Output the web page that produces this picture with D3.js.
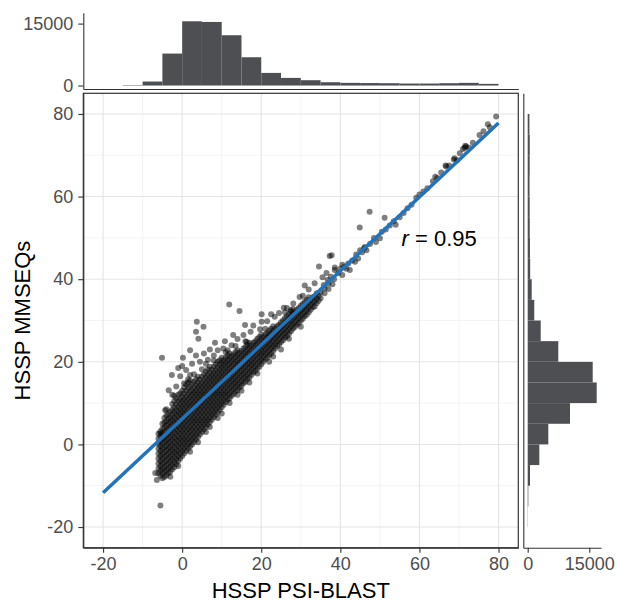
<!DOCTYPE html>
<html>
<head>
<meta charset="utf-8">
<script src="https://cdn.jsdelivr.net/npm/d3@7"></script>
<style>
  body { margin: 0; background: #fff; }
  svg { display: block; font-family: "Liberation Sans", Arial, Helvetica, sans-serif; }
</style>
</head>
<body>
<svg id="chart" width="617" height="602"></svg>
<script>
// marginal histograms, bins are 5 units wide
const xBinStarts = [-15, -10, -5, 0, 5, 10, 15, 20, 25, 30, 35, 40, 45, 50, 55, 60, 65, 70, 75];
const xBinCounts = [100, 970, 7740, 15560, 15400, 12180, 6850, 3060, 1850, 1290, 800, 650, 600, 560, 480, 480, 560, 650, 400];
const yBinStarts = [-20, -15, -10, -5, 0, 5, 10, 15, 20, 25, 30, 35, 40, 45, 50, 55, 60, 65, 70, 75];
const yBinCounts = [50, 150, 560, 2830, 5020, 10300, 16800, 15830, 7450, 3170, 1600, 970, 600, 550, 500, 480, 450, 480, 500, 420];

const axisTicks = [-20, 0, 20, 40, 60, 80];
const minorTicks = [-10, 10, 30, 50, 70];
const countTicks = [0, 15000];

// linear fit
const fitX = [-20, 80];
const fitY = [-11.7, 77.8];
const rText = "0.95";
const rPos = [65, 50];

// dense part of the cloud: PSI-BLAST value, MMSEQs values
const denseColumns = [
  [-6, [-7, -5.8, -4.6, -3.4, -2.2, -1, 0.2, 1.4, 2.6]],
  [-5.5, [-7.6, -6.4, -5.2, -4, -2.8, -1.6, -0.4, 0.8, 2, 3.2]],
  [-5, [-8.2, -7, -5.8, -4.6, -3.4, -2.2, -1, 0.2, 1.4, 2.6, 3.8, 5]],
  [-4.5, [-7.9, -6.7, -5.5, -4.3, -3.1, -1.9, -0.7, 0.5, 1.7, 2.9, 4.1, 5.3, 6.4]],
  [-4, [-7.5, -6.3, -5.1, -3.9, -2.7, -1.5, -0.3, 0.9, 2.1, 3.3, 4.5, 5.7, 7]],
  [-3.5, [-7, -5.8, -4.6, -3.4, -2.2, -1, 0.2, 1.4, 2.6, 3.8, 5, 6.2, 7.4]],
  [-3, [-6.6, -5.4, -4.2, -3, -1.8, -0.6, 0.6, 1.8, 3, 4.2, 5.4, 6.6, 8]],
  [-2.5, [-6, -4.8, -3.6, -2.4, -1.2, 0, 1.2, 2.4, 3.6, 4.8, 6, 7.2, 8.4, 9.8]],
  [-2, [-5.5, -4.3, -3.1, -1.9, -0.7, 0.5, 1.7, 2.9, 4.1, 5.3, 6.5, 7.7, 9, 10.5]],
  [-1.5, [-4.8, -3.6, -2.4, -1.2, 0, 1.2, 2.4, 3.6, 4.8, 6, 7.2, 8.4, 9.7, 11.2]],
  [-1, [-4, -2.8, -1.6, -0.4, 0.8, 2, 3.2, 4.4, 5.6, 6.8, 8, 9.2, 10.5, 12]],
  [-0.5, [-3.4, -2.2, -1, 0.2, 1.4, 2.6, 3.8, 5, 6.2, 7.4, 8.6, 9.8, 11, 12.4]],
  [0, [-2.8, -1.6, -0.4, 0.8, 2, 3.2, 4.4, 5.6, 6.8, 8, 9.2, 10.4, 11.6, 13]],
  [0.5, [-2.2, -1, 0.2, 1.4, 2.6, 3.8, 5, 6.2, 7.4, 8.6, 9.8, 11, 12.3, 13.8]],
  [1, [-1.6, -0.4, 0.8, 2, 3.2, 4.4, 5.6, 6.8, 8, 9.2, 10.4, 11.6, 13, 14.5]],
  [1.5, [-1, 0.2, 1.4, 2.6, 3.8, 5, 6.2, 7.4, 8.6, 9.8, 11, 12.2, 13.6, 15]],
  [2, [-0.5, 0.7, 1.9, 3.1, 4.3, 5.5, 6.7, 7.9, 9.1, 10.3, 11.5, 12.7, 14, 15.5]],
  [2.5, [0, 1.2, 2.4, 3.6, 4.8, 6, 7.2, 8.4, 9.6, 10.8, 12, 13.2, 14.6]],
  [3, [0.6, 1.8, 3, 4.2, 5.4, 6.6, 7.8, 9, 10.2, 11.4, 12.6, 13.8, 15.2]],
  [3.5, [1.2, 2.4, 3.6, 4.8, 6, 7.2, 8.4, 9.6, 10.8, 12, 13.2, 14.4, 15.8]],
  [4, [1.8, 3, 4.2, 5.4, 6.6, 7.8, 9, 10.2, 11.4, 12.6, 13.8, 15, 16.4]],
  [4.5, [2.4, 3.6, 4.8, 6, 7.2, 8.4, 9.6, 10.8, 12, 13.2, 14.4, 15.7]],
  [5, [3, 4.2, 5.4, 6.6, 7.8, 9, 10.2, 11.4, 12.6, 13.8, 15, 16.4]],
  [5.5, [3.6, 4.8, 6, 7.2, 8.4, 9.6, 10.8, 12, 13.2, 14.4, 15.6, 17]],
  [6, [4.2, 5.4, 6.6, 7.8, 9, 10.2, 11.4, 12.6, 13.8, 15, 16.2, 17.6]],
  [6.5, [4.8, 6, 7.2, 8.4, 9.6, 10.8, 12, 13.2, 14.4, 15.6, 16.8, 18.2]],
  [7, [5.4, 6.6, 7.8, 9, 10.2, 11.4, 12.6, 13.8, 15, 16.2, 17.4, 18.8]],
  [7.5, [6, 7.2, 8.4, 9.6, 10.8, 12, 13.2, 14.4, 15.6, 16.8, 18.1]],
  [8, [6.6, 7.8, 9, 10.2, 11.4, 12.6, 13.8, 15, 16.2, 17.4, 18.8]],
  [8.5, [7.2, 8.4, 9.6, 10.8, 12, 13.2, 14.4, 15.6, 16.8, 18, 19.4]],
  [9, [7.8, 9, 10.2, 11.4, 12.6, 13.8, 15, 16.2, 17.4, 18.6, 20]],
  [9.5, [8.4, 9.6, 10.8, 12, 13.2, 14.4, 15.6, 16.8, 18, 19.2, 20.4]],
  [10, [9, 10.2, 11.4, 12.6, 13.8, 15, 16.2, 17.4, 18.6, 19.8, 21]],
  [10.5, [9.6, 10.8, 12, 13.2, 14.4, 15.6, 16.8, 18, 19.2, 20.4]],
  [11, [10.2, 11.4, 12.6, 13.8, 15, 16.2, 17.4, 18.6, 19.8, 21]],
  [11.5, [10.8, 12, 13.2, 14.4, 15.6, 16.8, 18, 19.2, 20.4, 21.5]],
  [12, [11.2, 12.4, 13.6, 14.8, 16, 17.2, 18.4, 19.6, 20.8, 22]],
  [12.5, [11.8, 13, 14.2, 15.4, 16.6, 17.8, 19, 20.2, 21.4]],
  [13, [12.2, 13.4, 14.6, 15.8, 17, 18.2, 19.4, 20.6, 21.8]],
  [13.5, [12.8, 14, 15.2, 16.4, 17.6, 18.8, 20, 21.2, 22.4]],
  [14, [13.2, 14.4, 15.6, 16.8, 18, 19.2, 20.4, 21.6, 22.8]],
  [14.5, [13.8, 15, 16.2, 17.4, 18.6, 19.8, 21, 22.2]],
  [15, [14.2, 15.4, 16.6, 17.8, 19, 20.2, 21.4, 22.6]],
  [15.5, [14.8, 16, 17.2, 18.4, 19.6, 20.8, 22, 23.2]],
  [16, [15.2, 16.4, 17.6, 18.8, 20, 21.2, 22.4, 23.6]],
  [16.5, [15.8, 17, 18.2, 19.4, 20.6, 21.8, 23, 24.1]],
  [17, [16.2, 17.4, 18.6, 19.8, 21, 22.2, 23.4, 24.6]],
  [17.5, [16.8, 18, 19.2, 20.4, 21.6, 22.8, 24]],
  [18, [17.4, 18.6, 19.8, 21, 22.2, 23.4, 24.6]],
  [18.5, [17.8, 19, 20.2, 21.4, 22.6, 23.8, 25]],
  [19, [18.4, 19.6, 20.8, 22, 23.2, 24.4, 25.6]],
  [19.5, [18.8, 20, 21.2, 22.4, 23.6, 24.8, 26]],
  [20, [19.4, 20.6, 21.8, 23, 24.2, 25.4, 26.6]],
  [20.5, [20, 21.2, 22.4, 23.6, 24.8, 26]],
  [21, [20.6, 21.8, 23, 24.2, 25.4, 26.6]],
  [21.5, [21, 22.2, 23.4, 24.6, 25.8, 27]],
  [22, [21.6, 22.8, 24, 25.2, 26.4, 27.6]],
  [22.5, [22, 23.2, 24.4, 25.6, 26.8, 28]],
  [23, [22.6, 23.8, 25, 26.2, 27.4, 28.6]],
  [23.5, [23.2, 24.4, 25.6, 26.8, 28]],
  [24, [23.8, 25, 26.2, 27.4, 28.6]],
  [24.5, [24.2, 25.4, 26.6, 27.8, 29]],
  [25, [24.8, 26, 27.2, 28.4, 29.6]],
  [25.5, [25.2, 26.4, 27.6, 28.8, 30]],
  [26, [25.8, 27, 28.2, 29.4, 30.6]],
  [26.5, [26.2, 27.4, 28.6, 29.8, 31]],
  [27, [26.8, 28, 29.2, 30.4, 31.6]],
  [27.5, [27.4, 28.6, 29.8, 31, 32.2]],
  [28, [28, 29.2, 30.4, 31.6, 32.8]],
  [28.5, [28.4, 29.6, 30.8, 32]],
  [29, [29, 30.2, 31.4, 32.6]],
  [29.5, [29.4, 30.6, 31.8, 33]],
  [30, [30, 31.2, 32.4, 33.6]],
  [30.5, [30.4, 31.6, 32.8, 34]],
  [31, [31, 32.2, 33.4, 34.6]],
  [31.5, [31.4, 32.6, 33.8, 35]],
  [32, [32, 33.2, 34.4, 35.6]],
  [32.5, [32.6, 33.8, 35]],
  [33, [33.2, 34.4, 35.6]],
  [33.5, [33.4, 34.6, 35.8]],
  [34, [34.2, 35.4, 36.6]],
  [34.5, [34.8, 36]],
  [35, [35.4, 36.8]],
  [36, [36.6, 37.8]],
  [37, [37.6, 39]],
  [38, [38.8]]
];

// sparser points around the cloud and along the upper part of the fit
const loosePoints = [
  [-5.5, -14.8], [-6.8, -6.9], [-6.4, -8.6], [-5.1, 21.0], [-2.6, 16.8], [-3.4, 13.1], [-4.3, 8.3], [-5.5, 2.7],
  [0.2, 21], [2, 22.8], [3.7, 29.7], [3.5, 27.3], [5.4, 28.5], [4.1, 25.6], [11.9, 33.9], [14.5, 32.3],
  [15.9, 28.9], [20.1, 31.5], [20.1, 29.7], [17.3, 27.3], [19.7, 27.9], [12.9, 26.5], [8.3, 24.6], [10.4, 23.2],
  [16.3, 24.8], [37.3, 45.6], [34.6, 43.1], [38.6, 42.8], [29.7, 35.7], [28.1, 34.1], [25.7, 33.1], [23.4, 30.9],
  [-1.5, 14], [-0.5, 16.5], [1, 18], [2.5, 19.5], [0, 19], [3, 17], [4.5, 20], [5.5, 22], [6.5, 20.5], [7, 23],
  [8, 21.5], [9, 22.8], [1.5, 15.8], [-2.5, 12], [3.5, 21.5], [6, 19.5], [-1, 18.5], [10.8, 25], [12.5, 24],
  [14, 25.5], [11.5, 22.8], [13.5, 23.8], [15.5, 26.5], [18, 28.8], [21.5, 29.8], [22.5, 31.5], [24.5, 31.8],
  [26.5, 33], [27.5, 32.5], [30.5, 36], [32, 37.5], [31, 38.5], [33.5, 39], [35.5, 40.5], [36.5, 41.5],
  [25, 23], [30, 28.5], [22, 20], [15, 13], [10, 7.5], [6, 3],
  [2, -1.8], [4, 0.5], [7, 4.2], [9, 6.4], [12, 10], [14, 12], [17, 15], [19, 17.2], [23, 21.3], [27, 25.6],
  [-3, -7.8], [-1, -5.2], [-4, 8.5], [-2, 11.8], [0.5, 14.8], [2, 16.8], [5, 18.2], [8, 20.3], [11, 22.3],
  [16, 25], [21, 28], [26, 32], [35.8, 38.6], [36.8, 39.8], [37.6, 40.6], [38.4, 40],
  [37.8, 45.8], [38.6, 42.2], [39.5, 41.5], [40, 42.5], [40.5, 41], [41, 43], [42, 43.8], [42.4, 42.2], [43, 44.5],
  [43.7, 44.2], [44.9, 52.5], [44, 46], [45, 47], [46, 47.5], [46.2, 47.8], [46.6, 47], [47.4, 56.3], [47.5, 48.5],
  [48.5, 50], [49, 49], [50, 49.9], [50.5, 51.5], [51.2, 54.9], [51.5, 52], [52.5, 53], [53.5, 54], [54, 53.2],
  [55, 55], [56, 56], [57, 57.2], [58, 58], [59.2, 59.7], [60, 60.5], [61, 61.2], [62, 62], [63.4, 63.7],
  [64.5, 64.5], [65.5, 65.8], [66.8, 67.3], [67.5, 67.5], [68.9, 69.3], [69.5, 68.8], [70.2, 70.5], [71, 71.5],
  [71.8, 72.1], [72.5, 71.8], [73.5, 73], [75.2, 74.9], [76.2, 75.8], [77.3, 77.5], [77.8, 76.8], [79.4, 79.4],
  [71.4, 71.8], [71.6, 72.3], [68.7, 69], [66.6, 67.5], [64, 64.8], [40.5, 43.5], [41.5, 42.5], [44.5, 45], [45.5, 46.5]
];

const points = denseColumns
  .flatMap(([px, ys]) => ys.map(py => [px, py]))
  .concat(loosePoints);

const svg = d3.select("#chart");
const panel = { left: 83.3, right: 518.3, top: 93.3, bottom: 547.7 };
const topHist = { top: 12.7, bottom: 89 };
const rightHist = { left: 523.3, right: 601 };
const barColor = "#4d4f53";
const lineColor = "#333";
const tickColor = "#4d4d4d";
const plain = d => String(d).replace("\u2212", "-");

const x = d3.scaleLinear().domain([-25, 85]).range([panel.left, panel.right]);
const y = d3.scaleLinear().domain([-25, 85]).range([panel.bottom, panel.top]);
const countTop = d3.scaleLinear().domain([-840, 17640]).range([topHist.bottom, topHist.top]);
const countRight = d3.scaleLinear().domain([-1070, 17850]).range([rightHist.left, rightHist.right]);

function styleAxis(g) {
  g.attr("font-family", null).attr("font-size", null);
  g.select(".domain").attr("stroke", lineColor).attr("stroke-width", 1.1);
  g.selectAll(".tick line").attr("stroke", lineColor).attr("stroke-width", 1.1);
  g.selectAll(".tick text").attr("fill", tickColor).style("font-size", "18px");
}

// ---- main panel ----
const grid = svg.append("g");
grid.selectAll(".vminor").data(minorTicks).enter().append("line")
  .attr("x1", d => x(d)).attr("x2", d => x(d))
  .attr("y1", panel.top).attr("y2", panel.bottom)
  .attr("stroke", "#ececec").attr("stroke-width", 0.6);
grid.selectAll(".hminor").data(minorTicks).enter().append("line")
  .attr("x1", panel.left).attr("x2", panel.right)
  .attr("y1", d => y(d)).attr("y2", d => y(d))
  .attr("stroke", "#ececec").attr("stroke-width", 0.6);
grid.selectAll(".vmajor").data(axisTicks).enter().append("line")
  .attr("x1", d => x(d)).attr("x2", d => x(d))
  .attr("y1", panel.top).attr("y2", panel.bottom)
  .attr("stroke", "#e4e4e4").attr("stroke-width", 1.1);
grid.selectAll(".hmajor").data(axisTicks).enter().append("line")
  .attr("x1", panel.left).attr("x2", panel.right)
  .attr("y1", d => y(d)).attr("y2", d => y(d))
  .attr("stroke", "#e4e4e4").attr("stroke-width", 1.1);

svg.append("g").selectAll("circle")
  .data(points)
  .enter()
  .append("circle")
  .attr("cx", d => x(d[0]))
  .attr("cy", d => y(d[1]))
  .attr("r", 3)
  .attr("fill", "#000")
  .attr("fill-opacity", 0.5);

svg.append("path")
  .datum(fitX.map((v, i) => [v, fitY[i]]))
  .attr("d", d3.line().x(d => x(d[0])).y(d => y(d[1])))
  .attr("fill", "none")
  .attr("stroke", "#2473b8")
  .attr("stroke-width", 3.5);

svg.append("text")
  .attr("x", x(rPos[0]))
  .attr("y", y(rPos[1]))
  .attr("dy", "0.36em")
  .attr("text-anchor", "middle")
  .style("font-size", "22px")
  .call(t => {
    t.append("tspan").attr("font-style", "italic").text("r");
    t.append("tspan").text(" = " + rText);
  });

svg.append("rect")
  .attr("x", panel.left).attr("y", panel.top)
  .attr("width", panel.right - panel.left)
  .attr("height", panel.bottom - panel.top)
  .attr("fill", "none")
  .attr("stroke", lineColor)
  .attr("stroke-width", 1.2);

svg.append("g")
  .attr("transform", `translate(${panel.left},0)`)
  .call(d3.axisLeft(y).tickValues(axisTicks).tickFormat(plain).tickSize(5).tickPadding(5).tickSizeOuter(0))
  .call(styleAxis);

svg.append("g")
  .attr("transform", `translate(0,${panel.bottom})`)
  .call(d3.axisBottom(x).tickValues(axisTicks).tickFormat(plain).tickSize(5).tickPadding(5).tickSizeOuter(0))
  .call(styleAxis);

// ---- top histogram ----
svg.append("g").selectAll("rect")
  .data(xBinStarts)
  .enter()
  .append("rect")
  .attr("x", d => x(d))
  .attr("width", d => x(d + 5) - x(d))
  .attr("y", (d, i) => countTop(xBinCounts[i]))
  .attr("height", (d, i) => countTop(0) - countTop(xBinCounts[i]))
  .attr("fill", barColor);

svg.append("g")
  .attr("transform", `translate(${panel.left},0)`)
  .call(d3.axisLeft(countTop).tickValues(countTicks).tickFormat(plain).tickSize(5).tickPadding(5).tickSizeOuter(0))
  .call(styleAxis);

svg.append("g")
  .attr("transform", `translate(0,${topHist.bottom})`)
  .call(d3.axisBottom(x).tickValues([]).tickSizeOuter(0))
  .call(styleAxis);

// ---- right histogram ----
svg.append("g").selectAll("rect")
  .data(yBinStarts)
  .enter()
  .append("rect")
  .attr("x", countRight(0))
  .attr("width", (d, i) => countRight(yBinCounts[i]) - countRight(0))
  .attr("y", d => y(d + 5))
  .attr("height", d => y(d) - y(d + 5))
  .attr("fill", barColor);

svg.append("g")
  .attr("transform", `translate(${rightHist.left},0)`)
  .call(d3.axisLeft(y).tickValues([]).tickSizeOuter(0))
  .call(styleAxis);

svg.append("g")
  .attr("transform", `translate(0,${panel.bottom})`)
  .call(d3.axisBottom(countRight).tickValues(countTicks).tickFormat(plain).tickSize(5).tickPadding(5).tickSizeOuter(0))
  .call(styleAxis);

// ---- axis titles ----
svg.append("text")
  .attr("x", (panel.left + panel.right) / 2)
  .attr("y", 598)
  .attr("text-anchor", "middle")
  .style("font-size", "22px")
  .text("HSSP PSI-BLAST");

svg.append("text")
  .attr("transform", `translate(30,${(panel.top + panel.bottom) / 2}) rotate(-90)`)
  .attr("text-anchor", "middle")
  .style("font-size", "22px")
  .text("HSSP MMSEQs");
</script>
</body>
</html>
